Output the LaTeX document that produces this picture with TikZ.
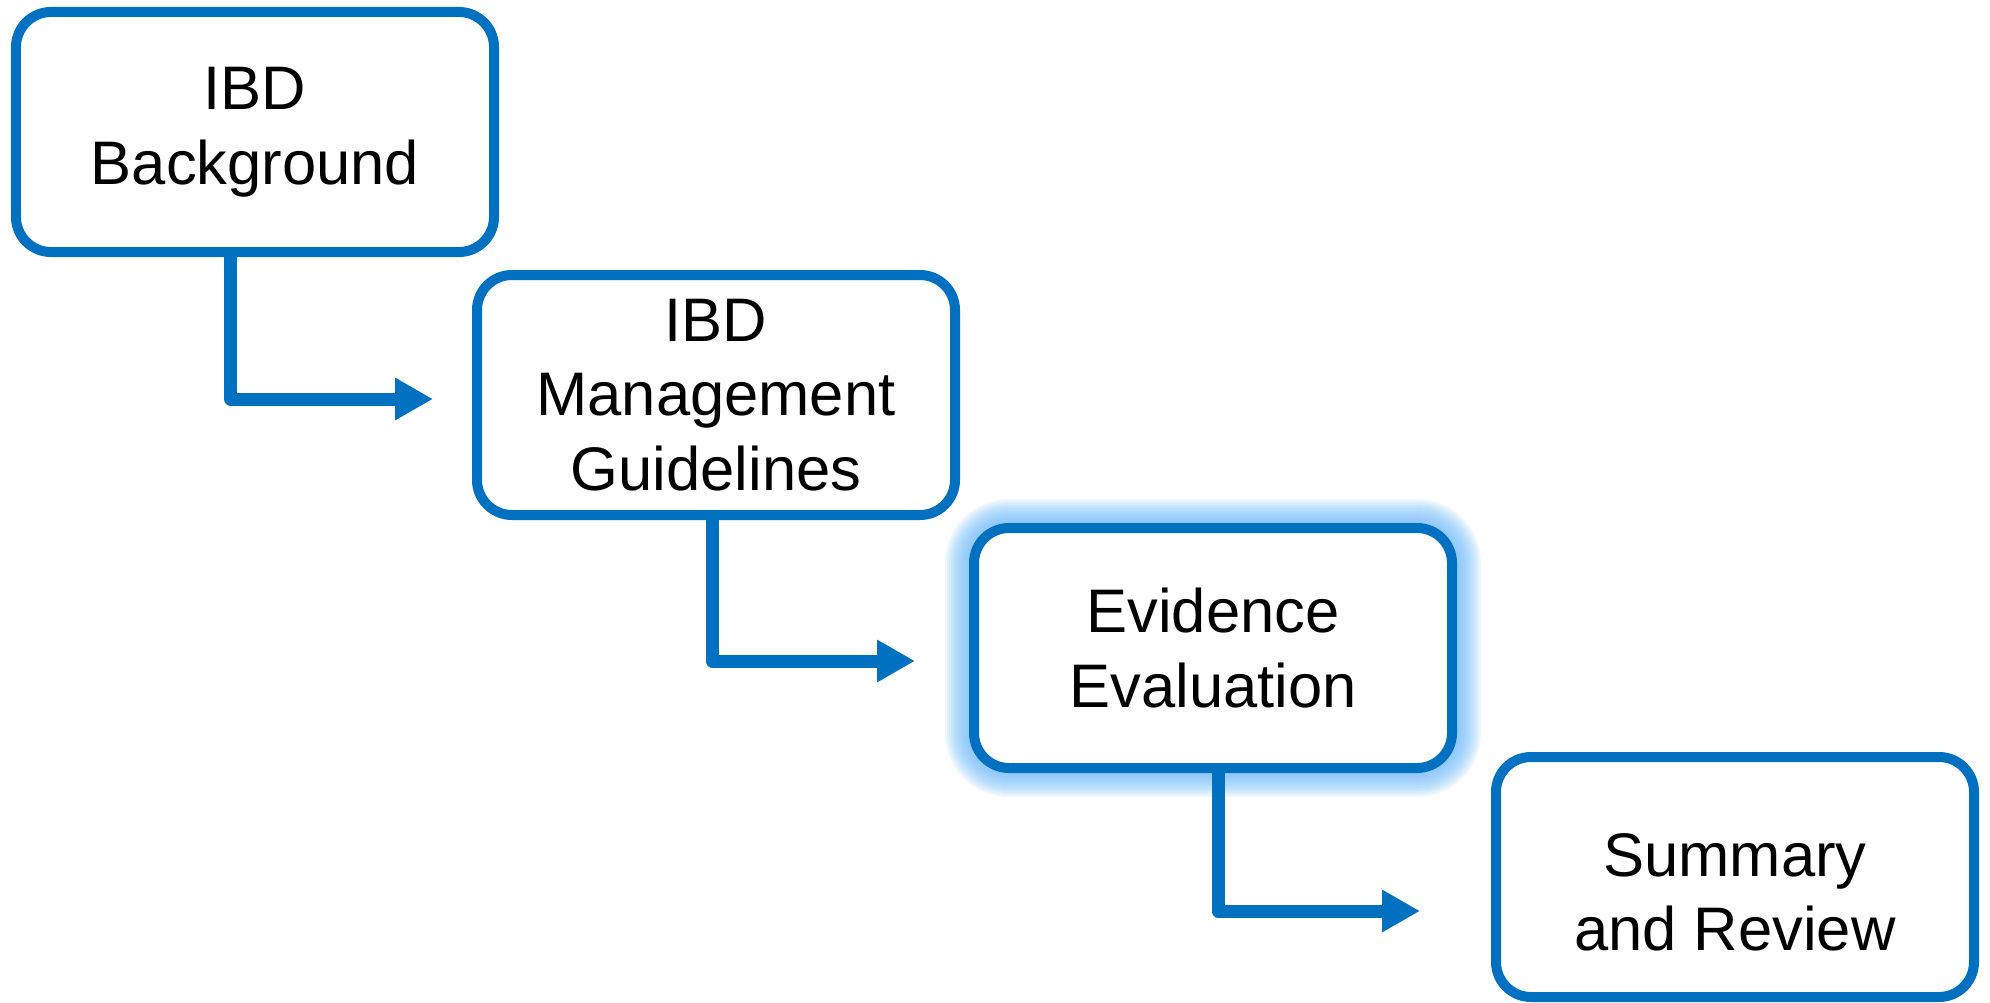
\documentclass[tikz,border=0pt]{standalone}
\usepackage{fontspec}
\setmainfont{Liberation Sans}
\usepackage{tikz}
\usetikzlibrary{positioning, arrows.meta, backgrounds}
\definecolor{stepblue}{RGB}{0,112,192}
\definecolor{glowblue}{RGB}{110,185,247}

\begin{document}
\begin{tikzpicture}[
        stage/.style={rectangle, rounded corners=0.7cm, draw=stepblue, line width=0.2cm, fill=white,
            minimum width=9.56cm, minimum height=4.8cm, inner sep=2pt, align=center,
            font=\fontsize{35}{42.5}\selectfont},
        flow/.style={draw=stepblue, line width=0.26cm, line join=round,
            -{Triangle[length=0.76cm, width=0.8cm]}},
        on grid]
            \useasboundingbox (-5.1,2.64) rectangle (34.7,-17.42);

            \node[stage](b){IBD\\Background};
            \node[stage](m)[below right = 5.26cm and 9.22cm of b]{IBD\\Management\\Guidelines};
            \node[stage](e)[below right = 5.06cm and 9.94cm of m]{Evidence\\Evaluation};
            \node[stage](s)[below right = 4.58cm and 10.44cm of e]{\rule{0pt}{1.47cm}Summary\\and Review};

            \begin{scope}[on background layer]
                \foreach \i in {1,...,12}
                    \node[stage, fill=none, draw=glowblue, draw opacity=0.11, line width=0.2cm+\i*0.08cm] at (e) {};
            \end{scope}

            \draw[flow] ([xshift=-0.48cm]b.south) |- ([xshift=-0.78cm, yshift=-0.08cm]m.west);
            \draw[flow] ([xshift=-0.08cm]m.south) |- ([xshift=-1.08cm, yshift=-0.26cm]e.west);
            \draw[flow] ([xshift=0.1cm]e.south) |- ([xshift=-1.42cm, yshift=-0.68cm]s.west);
        \end{tikzpicture}
\end{document}
